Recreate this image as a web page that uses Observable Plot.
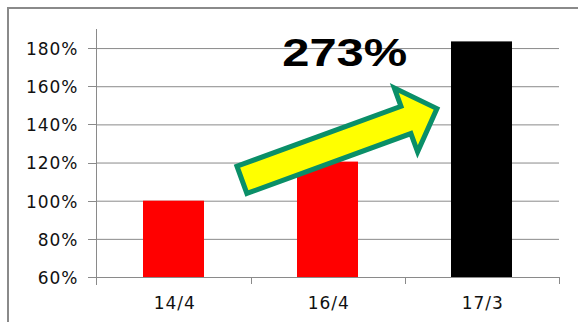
<!DOCTYPE html>
<html><head><meta charset="utf-8">
<script src="https://cdn.jsdelivr.net/npm/d3@7"></script>
<script src="https://cdn.jsdelivr.net/npm/@observablehq/plot@0.6"></script>
<style>
html,body{margin:0;padding:0;background:#fff;overflow:hidden;}
#wrap{position:relative;width:578px;height:322px;overflow:hidden;}
#frame{position:absolute;left:7px;top:7px;width:700px;height:500px;border:2px solid #8a8a8a;pointer-events:none;}
#chart svg{display:block;}
</style></head><body><div id="wrap"><div id="chart"></div><div id="frame"></div></div>
<script>
const categories = ["14/4", "16/4", "17/3"];
const values = [1.00, 1.205, 1.835];
const barColors = ["#ff0000", "#ff0000", "#000000"];
const yTicks = [0.6, 0.8, 1.0, 1.2, 1.4, 1.6, 1.8];
const yDomain = [0.6, 1.9];
const annotationLabel = "273%";
const arrowFrom = {category: "14/4", offset: 0.426, value: 1.104};
const arrowTo = {category: "17/3", offset: -0.265, value: 1.49};
const labelAt = {category: "16/4", value: 1.775};

const data = categories.map((c, i) => ({category: c, value: values[i], color: barColors[i]}));
const grid = "#8a8a8a";
const pct = d3.format(".0%");

function axisLines(index, scales, vals, dims) {
  const x = scales.x, y = scales.y;
  const left = dims.marginLeft, right = dims.width - dims.marginRight;
  const top = dims.marginTop, bottom = dims.height - dims.marginBottom;
  const bw = x.bandwidth();
  const step = x(categories[1]) - x(categories[0]);
  const g = d3.create("svg:g").attr("stroke", grid).attr("shape-rendering", "crispEdges").attr("fill", "none");
  g.append("line").attr("x1", left + 0.5).attr("x2", left + 0.5).attr("y1", top).attr("y2", bottom + 8);
  g.append("line").attr("x1", left).attr("x2", right).attr("y1", bottom + 0.5).attr("y2", bottom + 0.5);
  yTicks.forEach(v => {
    const yy = Math.round(y(v)) + 0.5;
    g.append("line").attr("x1", left - 8).attr("x2", left).attr("y1", yy).attr("y2", yy);
  });
  categories.forEach(c => {
    const xr = Math.round(x(c) + bw / 2 + step / 2) + 0.5;
    g.append("line").attr("x1", xr).attr("x2", xr).attr("y1", bottom).attr("y2", bottom + 7);
  });
  return g.node();
}

function blockArrow(index, scales, vals, dims) {
  const x = scales.x, y = scales.y;
  const bw = x.bandwidth();
  const step = x(categories[1]) - x(categories[0]);
  const px = p => [x(p.category) + bw / 2 + p.offset * step, y(p.value)];
  const [x0, y0] = px(arrowFrom), [x1, y1] = px(arrowTo);
  const len = Math.hypot(x1 - x0, y1 - y0);
  const ux = (x1 - x0) / len, uy = (y1 - y0) / len;
  const nx = -uy, ny = ux;
  const shaft = 14.5, head = 34, headLen = 33, inset = 3;
  const tx = x0 + inset * ux, ty = y0 + inset * uy;
  const px1 = x1 - 4 * ux, py1 = y1 - 4 * uy;
  const bx = px1 - headLen * ux, by = py1 - headLen * uy;
  const pts = [
    [tx + shaft * nx, ty + shaft * ny],
    [bx + shaft * nx, by + shaft * ny],
    [bx + head * nx, by + head * ny],
    [px1, py1],
    [bx - head * nx, by - head * ny],
    [bx - shaft * nx, by - shaft * ny],
    [tx - shaft * nx, ty - shaft * ny]
  ];
  const g = d3.create("svg:g");
  g.append("polygon").attr("points", pts.map(p => p.join(",")).join(" "))
    .attr("fill", "#ffff00").attr("stroke", "#0a8f68").attr("stroke-width", 5).attr("stroke-linejoin", "miter");
  return g.node();
}

const chart = Plot.plot({
  width: 578,
  height: 322,
  marginLeft: 96,
  marginRight: 19,
  marginTop: 29,
  marginBottom: 45,
  style: {fontFamily: "'DejaVu Sans', sans-serif", color: "#111", background: "transparent"},
  x: {domain: categories, paddingInner: 0.605, paddingOuter: 0.3025, align: 0.5, axis: null},
  y: {domain: yDomain, axis: null},
  color: {type: "identity"},
  marks: [
    Plot.gridY(yTicks, {stroke: grid, strokeOpacity: 1}),
    Plot.barY(data, {x: "category", y1: yDomain[0], y2: "value", fill: "color"}),
    axisLines,
    Plot.text(yTicks, {y: d => d, text: d => pct(d), frameAnchor: "left", textAnchor: "end", dx: -18, dy: 1, fontSize: 17, fill: "#111"}),
    Plot.text(categories, {x: d => d, text: d => d, frameAnchor: "bottom", lineAnchor: "top", dy: 19, dx: 0.8, fontSize: 17, fill: "#111"}),
    blockArrow,
    Plot.text([labelAt], {x: "category", y: "value", text: () => annotationLabel, dx: 16.7, fontSize: 38, fontWeight: "bold", fontFamily: "'Liberation Sans', Arial, sans-serif", fill: "#000"})
  ]
});
d3.select(chart).selectAll("text").each(function() {
  const t = this.textContent.trim();
  if (t === annotationLabel) {
    this.setAttribute("textLength", 125);
    this.setAttribute("lengthAdjust", "spacingAndGlyphs");
  } else if (/%$/.test(t)) {
    this.style.letterSpacing = "1px";
  } else if (categories.includes(t)) {
    this.style.letterSpacing = "1px";
  }
});
document.getElementById("chart").appendChild(chart);
</script>
</body></html>
